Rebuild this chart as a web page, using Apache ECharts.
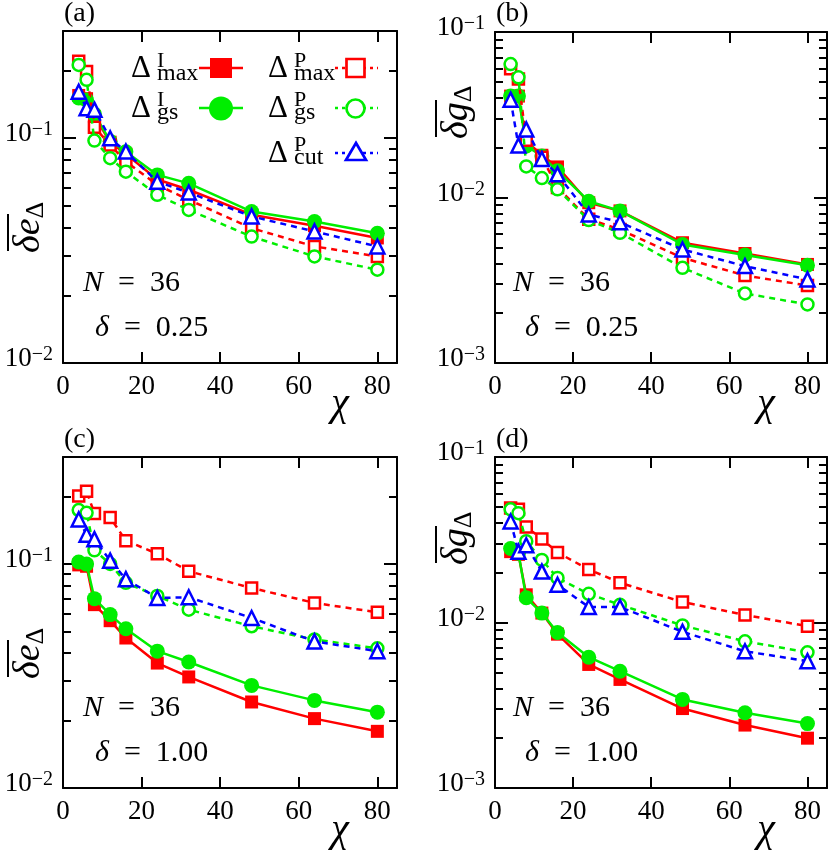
<!DOCTYPE html>
<html><head><meta charset="utf-8">
<script src="https://cdn.jsdelivr.net/npm/echarts@6/dist/echarts.min.js"></script>
<style>html,body{margin:0;padding:0;background:#fff}#c{width:830px;height:854px}</style>
</head><body><div id="c"></div>
<script>
// ---- data ----
const chi = [4, 6, 8, 12, 16, 24, 32, 48, 64, 80];

const a_Imax = [0.155, 0.150, 0.125, 0.096, 0.085, 0.0655, 0.059, 0.0457, 0.0408, 0.036];
const a_Igs  = [0.151, 0.148, 0.128, 0.097, 0.087, 0.0687, 0.063, 0.0472, 0.0426, 0.0378];
const a_Pmax = [0.220, 0.198, 0.112, 0.0934, 0.0787, 0.062, 0.0532, 0.0398, 0.033, 0.0298];
const a_Pgs  = [0.212, 0.182, 0.0976, 0.0815, 0.071, 0.056, 0.048, 0.0365, 0.0298, 0.026];
const a_Pcut = [0.161, 0.136, 0.134, 0.100, 0.0872, 0.0641, 0.0573, 0.0449, 0.0385, 0.033];

const b_Imax = [0.041, 0.041, 0.022, 0.0180, 0.0153, 0.0093, 0.0083, 0.00533, 0.00459, 0.00394];
const b_Igs  = [0.041, 0.041, 0.0205, 0.0178, 0.0145, 0.0095, 0.0083, 0.0052, 0.0045, 0.0039];
const b_Pmax = [0.0600, 0.052, 0.0222, 0.0175, 0.0115, 0.0074, 0.0064, 0.00432, 0.00338, 0.00294];
const b_Pgs  = [0.0640, 0.0532, 0.0154, 0.0131, 0.0112, 0.0073, 0.00612, 0.00376, 0.00263, 0.00226];
const b_Pcut = [0.039, 0.0206, 0.0258, 0.0171, 0.0138, 0.0079, 0.00709, 0.00485, 0.00385, 0.0032];

const c_Imax = [0.0990, 0.0976, 0.0658, 0.0558, 0.0467, 0.0361, 0.0313, 0.0242, 0.0204, 0.0179];
const c_Igs  = [0.1020, 0.0998, 0.0700, 0.0594, 0.0514, 0.0408, 0.0365, 0.0287, 0.0246, 0.0218];
const c_Pmax = [0.201, 0.211, 0.168, 0.161, 0.127, 0.111, 0.0927, 0.0781, 0.067, 0.0608];
const c_Pgs  = [0.174, 0.169, 0.115, 0.100, 0.0823, 0.072, 0.0625, 0.0527, 0.046, 0.042];
const c_Pcut = [0.158, 0.135, 0.129, 0.1034, 0.0855, 0.0705, 0.071, 0.0574, 0.0451, 0.0408];

const d_Imax = [0.0268, 0.0258, 0.0147, 0.0114, 0.0085, 0.00558, 0.00453, 0.00302, 0.0024, 0.0020];
const d_Igs  = [0.0280, 0.0262, 0.0141, 0.0114, 0.0087, 0.00617, 0.00508, 0.00343, 0.00285, 0.00245];
const d_Pmax = [0.0492, 0.0483, 0.0378, 0.0320, 0.0265, 0.0209, 0.0174, 0.0133, 0.0111, 0.0095];
const d_Pgs  = [0.0483, 0.0458, 0.031, 0.0239, 0.0186, 0.0149, 0.0128, 0.0096, 0.0077, 0.00661];
const d_Pcut = [0.0408, 0.0268, 0.0293, 0.0203, 0.0169, 0.0124, 0.0124, 0.00879, 0.0067, 0.00584];

const xTickLabels = [0, 20, 40, 60, 80];
const yMajorAC = [0.01, 0.1];
const yMinorAC = [0.02, 0.03, 0.04, 0.05, 0.06, 0.07, 0.08, 0.09, 0.2, 0.3];
const yMajorBD = [0.001, 0.01, 0.1];
const yMinorBD = [0.002, 0.003, 0.004, 0.005, 0.006, 0.007, 0.008, 0.009,
                  0.02, 0.03, 0.04, 0.05, 0.06, 0.07, 0.08, 0.09];
const panelLetters = ['(a)', '(b)', '(c)', '(d)'];
const deltaTexts = ['0.25', '0.25', '1.00', '1.00'];
const nText = '36';

// ---- styling ----
const FONT = '"Liberation Serif", "Times New Roman", serif';
const RED = '#ff0000', GREEN = '#00ee00', BLUE = '#0000ff';
const DASH = [6, 5];

const seriesStyles = {
  Imax: {symbol: 'rect', size: 13, color: RED, fill: RED, type: 'solid', bw: 0},
  Igs:  {symbol: 'circle', size: 15, color: GREEN, fill: GREEN, type: 'solid', bw: 0},
  Pmax: {symbol: 'rect', size: 11, color: RED, fill: '#fff', type: DASH, bw: 2.5},
  Pgs:  {symbol: 'circle', size: 12, color: GREEN, fill: '#fff', type: DASH, bw: 2.5},
  Pcut: {symbol: 'triangle', size: 14, color: BLUE, fill: '#fff', type: DASH, bw: 2.5}
};
const order = ['Imax', 'Igs', 'Pmax', 'Pgs', 'Pcut'];

const panels = [
  {grid: {left: 63, top: 31, width: 334, height: 332}, ymin: 0.01, ymax: 0.3, major: yMajorAC, minor: yMinorAC,
   data: {Imax: a_Imax, Igs: a_Igs, Pmax: a_Pmax, Pgs: a_Pgs, Pcut: a_Pcut}},
  {grid: {left: 495, top: 32, width: 332, height: 331}, ymin: 0.001, ymax: 0.1, major: yMajorBD, minor: yMinorBD,
   data: {Imax: b_Imax, Igs: b_Igs, Pmax: b_Pmax, Pgs: b_Pgs, Pcut: b_Pcut}},
  {grid: {left: 63, top: 457, width: 334, height: 331}, ymin: 0.01, ymax: 0.3, major: yMajorAC, minor: yMinorAC,
   data: {Imax: c_Imax, Igs: c_Igs, Pmax: c_Pmax, Pgs: c_Pgs, Pcut: c_Pcut}},
  {grid: {left: 495, top: 457, width: 332, height: 331}, ymin: 0.001, ymax: 0.1, major: yMajorBD, minor: yMinorBD,
   data: {Imax: d_Imax, Igs: d_Igs, Pmax: d_Pmax, Pgs: d_Pgs, Pcut: d_Pcut}}
];

const axisLineStyle = {color: '#000', width: 2};
const grids = [], xAxes = [], yAxes = [], series = [];

function expLabel(v) {
  const e = Math.round(Math.log10(v));
  return '{b|10}{s|\u2212' + (-e) + '}';
}

panels.forEach((p, g) => {
  grids.push(Object.assign({show: false}, p.grid));
  const xBase = {gridIndex: g, type: 'value', min: 0, max: 85, interval: 20, splitLine: {show: false},
    axisLine: {show: true, onZero: false, lineStyle: axisLineStyle},
    axisTick: {show: true, inside: true, length: 11, lineStyle: {color: '#000', width: 2}}};
  xAxes.push(Object.assign({}, xBase, {position: 'bottom',
    axisLabel: {show: true, color: '#000', fontSize: 27, fontFamily: FONT, margin: 10,
      formatter: v => xTickLabels.indexOf(v) >= 0 ? String(v) : ''}}));
  xAxes.push(Object.assign({}, xBase, {position: 'top', axisLabel: {show: false}}));

  const yBase = {gridIndex: g, type: 'log', logBase: 10, min: p.ymin, max: p.ymax, splitLine: {show: false}};
  yAxes.push(Object.assign({}, yBase, {position: 'left',
    axisLine: {show: true, onZero: false, lineStyle: axisLineStyle},
    axisTick: {show: true, inside: true, length: 13, customValues: p.major, lineStyle: {color: '#000', width: 2}},
    axisLabel: {show: true, customValues: p.major, margin: 10, formatter: expLabel, padding: [0, 0, 8, 0],
      rich: {
        b: {fontSize: 27, fontFamily: FONT, color: '#000', lineHeight: 28},
        s: {fontSize: 20, fontFamily: FONT, color: '#000', lineHeight: 10, verticalAlign: 'top'}
      }}}));
  yAxes.push(Object.assign({}, yBase, {position: 'left',
    axisLine: {show: false, onZero: false},
    axisTick: {show: true, inside: true, length: 8, customValues: p.minor, lineStyle: {color: '#000', width: 2}},
    axisLabel: {show: false}}));
  yAxes.push(Object.assign({}, yBase, {position: 'right',
    axisLine: {show: true, onZero: false, lineStyle: axisLineStyle},
    axisTick: {show: true, inside: true, length: 13, customValues: p.major, lineStyle: {color: '#000', width: 2}},
    axisLabel: {show: false}}));
  yAxes.push(Object.assign({}, yBase, {position: 'right',
    axisLine: {show: false, onZero: false},
    axisTick: {show: true, inside: true, length: 8, customValues: p.minor, lineStyle: {color: '#000', width: 2}},
    axisLabel: {show: false}}));

  order.forEach((key, k) => {
    const st = seriesStyles[key];
    series.push({
      type: 'line', name: key, xAxisIndex: g * 2, yAxisIndex: g * 4,
      data: chi.map((x, i) => [x, p.data[key][i]]),
      symbol: st.symbol, symbolSize: st.size, showSymbol: true, showAllSymbol: true,
      lineStyle: {color: st.color, width: 2.5, type: st.type},
      itemStyle: {color: st.fill, borderColor: st.color, borderWidth: st.bw},
      z: 2 + k, animation: false, silent: true
    });
  });
});

// ---- decorations (text, legend) ----
const graphics = [];
function text(x, y, t, style) {
  return {type: 'text', x: x, y: y, silent: true, z: 50,
    style: Object.assign({text: t, fill: '#000', fontSize: 27, fontFamily: FONT,
      align: 'left', verticalAlign: 'middle', textAlign: 'left', textVerticalAlign: 'middle'}, style || {})};
}
const mathRich = {
  i: {fontSize: 30, fontFamily: FONT, fontStyle: 'italic', color: '#000'},
  r: {fontSize: 30, fontFamily: FONT, color: '#000'}
};
const labelPos = [[64, 14], [496, 14], [64, 440], [496, 440]];
const nPos = [[83, 283], [513, 283], [83, 708], [513, 708]];
const dPos = [[95, 328], [525, 328], [95, 753], [525, 753]];
const chiPos = [[340, 404], [766, 404], [340, 830], [766, 830]];
for (let g = 0; g < 4; g++) {
  graphics.push(text(labelPos[g][0], labelPos[g][1], panelLetters[g], {fontSize: 28}));
  graphics.push(text(nPos[g][0], nPos[g][1], '{i|N}{r|\u2002=\u200236}', {rich: mathRich}));
  graphics.push(text(dPos[g][0], dPos[g][1], '{i|\u03b4}{r|\u2002=\u2002' + deltaTexts[g] + '}', {rich: mathRich}));
  graphics.push(text(chiPos[g][0], chiPos[g][1], '\u03c7',
    {fontSize: 40, fontStyle: 'italic', align: 'center', textAlign: 'center'}));
}
// y-axis titles (rotated), with overline
const yTitlePos = [[29, 253, '\u03b4e'], [457, 139, '\u03b4g'], [29, 679, '\u03b4e'], [457, 565, '\u03b4g']];
yTitlePos.forEach(([x0, y0, main]) => {
  graphics.push({type: 'group', x: x0, y: y0, rotation: Math.PI / 2, silent: true, z: 50, children: [
    {type: 'text', x: 0, y: 0, style: {text: '{m|' + main + '}{s|\u0394}', align: 'left', verticalAlign: 'middle',
      textAlign: 'left', textVerticalAlign: 'middle', fill: '#000',
      rich: {m: {fontSize: 38, fontFamily: FONT, fontStyle: 'italic', color: '#000', lineHeight: 40},
             s: {fontSize: 26, fontFamily: FONT, color: '#000', lineHeight: 30, verticalAlign: 'bottom'}}}},
    {type: 'line', shape: {x1: 2, y1: -21, x2: 39, y2: -21}, style: {stroke: '#000', lineWidth: 2}}
  ]});
});
// legend in panel (a)
function legendLabel(x, yc, sup, sub) {
  graphics.push(text(x, yc, '\u0394', {fontSize: 31}));
  graphics.push(text(x + 26, yc - 8, sup, {fontSize: 22}));
  graphics.push(text(x + 26, yc + 4.5, sub, {fontSize: 24}));
}
legendLabel(131, 69, 'I', 'max');
legendLabel(131, 108.5, 'I', 'gs');
legendLabel(268, 69, 'P', 'max');
legendLabel(268, 108.5, 'P', 'gs');
legendLabel(268, 153.5, 'P', 'cut');
const LD = [3, 4];
graphics.push({type: 'line', z: 50, silent: true, shape: {x1: 199, y1: 68, x2: 243, y2: 68}, style: {stroke: RED, lineWidth: 2.5}});
graphics.push({type: 'rect', z: 51, silent: true, shape: {x: 210, y: 58, width: 22, height: 20}, style: {fill: RED}});
graphics.push({type: 'line', z: 50, silent: true, shape: {x1: 199, y1: 108, x2: 243, y2: 108}, style: {stroke: GREEN, lineWidth: 2.5}});
graphics.push({type: 'circle', z: 51, silent: true, shape: {cx: 221, cy: 108.5, r: 12}, style: {fill: GREEN}});
graphics.push({type: 'line', z: 50, silent: true, shape: {x1: 335, y1: 68, x2: 378, y2: 68}, style: {stroke: RED, lineWidth: 2.5, lineDash: LD}});
graphics.push({type: 'rect', z: 51, silent: true, shape: {x: 346.5, y: 59, width: 18, height: 18}, style: {fill: '#fff', stroke: RED, lineWidth: 2.7}});
graphics.push({type: 'line', z: 50, silent: true, shape: {x1: 335, y1: 108, x2: 378, y2: 108}, style: {stroke: GREEN, lineWidth: 2.5, lineDash: LD}});
graphics.push({type: 'circle', z: 51, silent: true, shape: {cx: 355.5, cy: 108.5, r: 9}, style: {fill: '#fff', stroke: GREEN, lineWidth: 2.7}});
graphics.push({type: 'line', z: 50, silent: true, shape: {x1: 335, y1: 153, x2: 378, y2: 153}, style: {stroke: BLUE, lineWidth: 2.5, lineDash: LD}});
graphics.push({type: 'polygon', z: 51, silent: true, shape: {points: [[346, 160], [366, 160], [356, 143]]}, style: {fill: '#fff', stroke: BLUE, lineWidth: 2.7}});

const chart = echarts.init(document.getElementById('c'), null, {renderer: 'canvas'});
chart.setOption({
  animation: false,
  backgroundColor: '#fff',
  textStyle: {fontFamily: FONT},
  grid: grids,
  xAxis: xAxes,
  yAxis: yAxes,
  series: series,
  graphic: graphics
});
</script></body></html>
